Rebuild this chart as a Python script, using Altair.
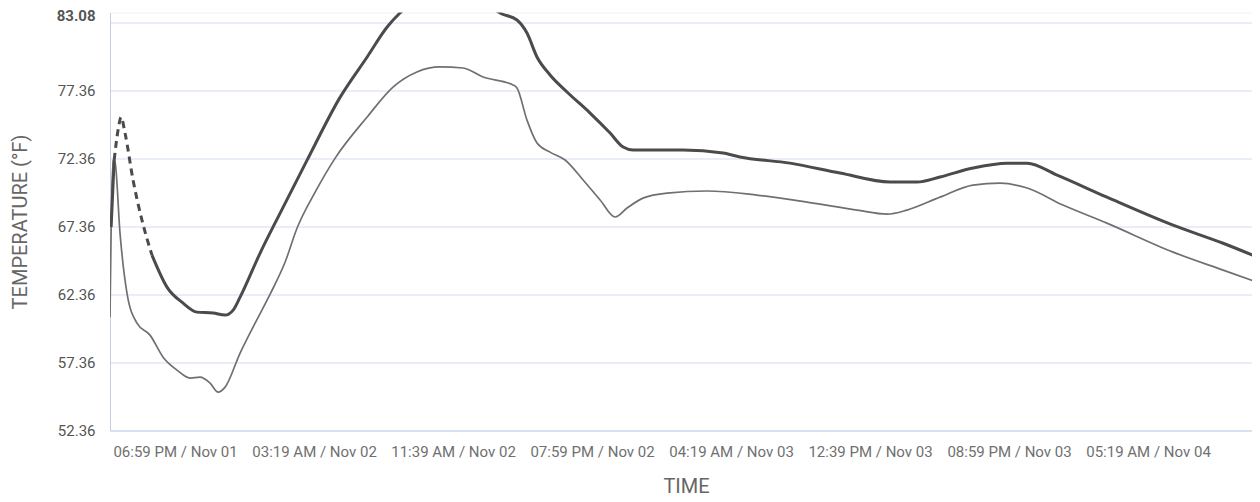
import altair as alt
import pandas as pd

# Time in minutes relative to 06:59 PM / Nov 01
tick_minutes = [0, 500, 1000, 1500, 2000, 2500, 3000, 3500]
tick_labels = ["06:59 PM / Nov 01", "03:19 AM / Nov 02", "11:39 AM / Nov 02",
               "07:59 PM / Nov 02", "04:19 AM / Nov 03", "12:39 PM / Nov 03",
               "08:59 PM / Nov 03", "05:19 AM / Nov 04"]
y_ticks = [52.36, 57.36, 62.36, 67.36, 72.36, 77.36, 82.36, 83.08]

# Dark (thick) series: short solid start, dashed gap, main solid run
dark_start_t = [-230, -219]
dark_start_v = [67.31, 72.24]
dark_dash_t = [-219, -205, -194, -180, -151, -119, -83]
dark_dash_v = [72.24, 74.44, 75.39, 74.22, 70.76, 67.82, 65.25]
dark_t = [-83, -29, 29, 79, 137, 180, 209, 234, 306, 378, 475, 594, 691, 763, 809,
          881, 971, 1061, 1133, 1169, 1230, 1266, 1302, 1349, 1410, 1493, 1565,
          1612, 1648, 1827, 1971, 2032, 2212, 2392, 2572, 2669, 2752, 2870, 2993,
          3065, 3173, 3352, 3590, 3770, 3903]
dark_v = [65.25, 62.90, 61.72, 61.06, 60.99, 60.84, 61.21, 62.16, 65.40, 68.34,
          72.23, 76.86, 79.81, 82.01, 83.04, 84.16, 84.50, 84.20, 83.54, 83.04,
          82.53, 81.57, 79.81, 78.49, 77.24, 75.69, 74.22, 73.19, 72.97, 72.97,
          72.75, 72.46, 72.01, 71.28, 70.62, 70.62, 70.99, 71.65, 72.01, 72.01,
          71.13, 69.51, 67.45, 66.12, 65.02]

# Thin (lighter) series
thin_t = [-234, -223, -216, -198, -173, -137, -90, -43, 7, 54, 90, 126, 155, 180,
          234, 288, 342, 396, 439, 504, 576, 691, 784, 870, 953, 1036, 1108, 1216,
          1230, 1266, 1302, 1349, 1403, 1468, 1529, 1583, 1626, 1683, 1770, 1914,
          2093, 2273, 2453, 2561, 2633, 2752, 2870, 2968, 3065, 3194, 3352, 3590,
          3770, 3903]
thin_v = [60.69, 72.24, 72.09, 66.87, 62.46, 60.25, 59.37, 57.75, 56.80, 56.21,
          56.28, 55.84, 55.18, 55.55, 58.05, 60.25, 62.38, 64.74, 67.24, 69.88,
          72.38, 75.40, 77.60, 78.71, 79.08, 79.00, 78.34, 77.75, 77.53, 75.17,
          73.49, 72.82, 72.24, 70.77, 69.30, 68.05, 68.71, 69.44, 69.81, 69.96,
          69.66, 69.15, 68.56, 68.26, 68.56, 69.51, 70.40, 70.54, 70.18, 68.93,
          67.60, 65.47, 64.15, 63.19]

dark_df = pd.DataFrame({
    "t": dark_start_t + dark_t,
    "v": dark_start_v + dark_v,
    "seg": ["a"] * len(dark_start_t) + ["c"] * len(dark_t),
})
dash_df = pd.DataFrame({"t": dark_dash_t, "v": dark_dash_v})
thin_df = pd.DataFrame({"t": thin_t, "v": thin_v})

label_expr = " : ".join(
    f"datum.value == {m} ? '{l}'" for m, l in zip(tick_minutes, tick_labels)
) + " : ''"

FONT = "Roboto"
x_scale = alt.Scale(domain=[-234, 3874], nice=False, zero=False)
y_scale = alt.Scale(domain=[52.36, 83.08], nice=False, zero=False)

x_axis = alt.Axis(
    values=tick_minutes, labelExpr=label_expr, grid=False, ticks=False,
    domainColor="#c9d3ea", labelColor="#707070", labelFont=FONT, labelFontSize=15,
    labelPadding=14, title="TIME", titleFont=FONT, titleFontSize=20,
    titleFontWeight="normal", titleColor="#666666", titleY=56, titleX=576,
    titleBaseline="middle",
)
y_axis = alt.Axis(
    values=y_ticks, format=".2f",
    labelExpr="datum.value == 82.36 ? '' : format(datum.value, '.2f')",
    grid=True, ticks=False, domainColor="#c5cde2",
    gridColor={"condition": {"test": "datum.value == 83.08", "value": "#eef1f8"},
               "value": "#d3dbee"},
    labelColor="#555555", labelFont=FONT, labelFontSize=15, labelPadding=15,
    labelFontWeight={"condition": {"test": "datum.value == 83.08", "value": "bold"},
                     "value": "normal"},
    labelOffset={"condition": {"test": "datum.value == 83.08", "value": 3},
                 "value": 0},
    title="TEMPERATURE (°F)", titleFont=FONT, titleFontSize=20,
    titleFontWeight="normal", titleColor="#666666", titleX=-90, titleY=209,
    titleAngle=-90, titleBaseline="middle", titleAlign="center",
)

thin_line = alt.Chart(thin_df).mark_line(
    color="#707070", strokeWidth=1.7, interpolate="monotone", clip=True
).encode(
    x=alt.X("t:Q", scale=x_scale, axis=x_axis),
    y=alt.Y("v:Q", scale=y_scale, axis=y_axis),
)

dark_line = alt.Chart(dark_df).mark_line(
    color="#4b4b4b", strokeWidth=3, interpolate="monotone", clip=True
).encode(
    x=alt.X("t:Q", scale=x_scale),
    y=alt.Y("v:Q", scale=y_scale),
    detail="seg:N",
)

dash_line = alt.Chart(dash_df).mark_line(
    color="#4b4b4b", strokeWidth=3, strokeDash=[7, 5], interpolate="monotone",
    clip=True
).encode(
    x=alt.X("t:Q", scale=x_scale),
    y=alt.Y("v:Q", scale=y_scale),
)

chart = alt.layer(thin_line, dark_line, dash_line).properties(
    width=1142, height=418,
    padding={"left": 102, "top": 4.5, "right": 0, "bottom": 70},
    autosize=alt.AutoSizeParams(type="none"),
    background="white",
).configure_view(strokeWidth=0)

chart.save("out.html", embed_options={"renderer": "svg", "actions": False})
